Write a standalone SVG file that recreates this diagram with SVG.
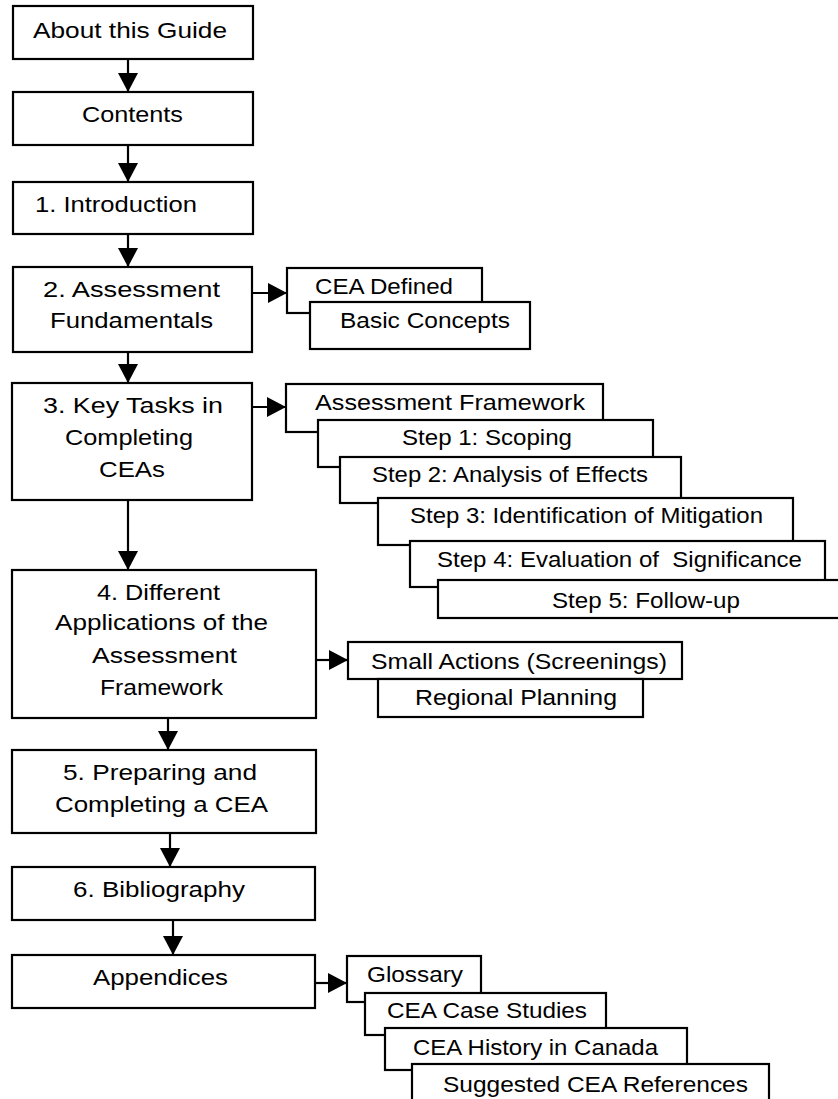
<svg xmlns="http://www.w3.org/2000/svg" width="838" height="1099" viewBox="0 0 838 1099">
<style>
.box{fill:#fff;stroke:#000;stroke-width:2.2}
.t{font-family:"Liberation Sans",Arial,sans-serif;font-size:22px;fill:#000}
.c{fill:none;stroke:#000;stroke-width:2.2}
</style>
<defs>
<marker id="ah" viewBox="0 0 19 20" refX="19" refY="10" markerWidth="19" markerHeight="20" markerUnits="userSpaceOnUse" orient="auto">
<path d="M0,0 L19,10 L0,20 Z" fill="#000"/>
</marker>
</defs>
<rect width="838" height="1099" fill="#fff"/>
<g id="connectors">
<path class="c" d="M128,59 V92" marker-end="url(#ah)"/>
<path class="c" d="M128,145 V182" marker-end="url(#ah)"/>
<path class="c" d="M128,234 V267" marker-end="url(#ah)"/>
<path class="c" d="M128,352 V383" marker-end="url(#ah)"/>
<path class="c" d="M128,500 V570" marker-end="url(#ah)"/>
<path class="c" d="M168,718 V750" marker-end="url(#ah)"/>
<path class="c" d="M170,833 V867" marker-end="url(#ah)"/>
<path class="c" d="M173,920 V955" marker-end="url(#ah)"/>
<path class="c" d="M253,293 H287" marker-end="url(#ah)"/>
<path class="c" d="M252,407 H286" marker-end="url(#ah)"/>
<path class="c" d="M316,660 H348" marker-end="url(#ah)"/>
<path class="c" d="M315,983 H347" marker-end="url(#ah)"/>
</g>
<g id="about"><rect class="box" x="13" y="6" width="240" height="53"/><text class="t" x="33" y="38" textLength="194" lengthAdjust="spacingAndGlyphs">About this Guide</text></g>
<g id="contents"><rect class="box" x="13" y="92" width="240" height="53"/><text class="t" x="82" y="122" textLength="101" lengthAdjust="spacingAndGlyphs">Contents</text></g>
<g id="intro"><rect class="box" x="13" y="182" width="240" height="52"/><text class="t" x="35" y="212" textLength="162" lengthAdjust="spacingAndGlyphs">1. Introduction</text></g>
<g id="fundamentals"><rect class="box" x="13" y="267" width="239" height="85"/><text class="t" x="43" y="297" textLength="177" lengthAdjust="spacingAndGlyphs">2. Assessment</text><text class="t" x="50" y="328" textLength="163" lengthAdjust="spacingAndGlyphs">Fundamentals</text></g>
<g id="keytasks"><rect class="box" x="12" y="383" width="240" height="117"/><text class="t" x="43" y="413" textLength="180" lengthAdjust="spacingAndGlyphs">3. Key Tasks in</text><text class="t" x="65" y="445" textLength="128" lengthAdjust="spacingAndGlyphs">Completing</text><text class="t" x="99" y="477" textLength="66" lengthAdjust="spacingAndGlyphs">CEAs</text></g>
<g id="applications"><rect class="box" x="12" y="570" width="304" height="148"/><text class="t" x="97" y="600" textLength="123" lengthAdjust="spacingAndGlyphs">4. Different</text><text class="t" x="55" y="630" textLength="213" lengthAdjust="spacingAndGlyphs">Applications of the</text><text class="t" x="92" y="663" textLength="145" lengthAdjust="spacingAndGlyphs">Assessment</text><text class="t" x="100" y="695" textLength="123" lengthAdjust="spacingAndGlyphs">Framework</text></g>
<g id="preparing"><rect class="box" x="12" y="750" width="304" height="83"/><text class="t" x="63" y="780" textLength="194" lengthAdjust="spacingAndGlyphs">5. Preparing and</text><text class="t" x="55" y="812" textLength="213" lengthAdjust="spacingAndGlyphs">Completing a CEA</text></g>
<g id="bibliography"><rect class="box" x="12" y="867" width="303" height="53"/><text class="t" x="73" y="897" textLength="172" lengthAdjust="spacingAndGlyphs">6. Bibliography</text></g>
<g id="appendices"><rect class="box" x="12" y="955" width="303" height="53"/><text class="t" x="93" y="985" textLength="135" lengthAdjust="spacingAndGlyphs">Appendices</text></g>
<g id="cea-defined"><rect class="box" x="287" y="268" width="195" height="45"/><text class="t" x="315" y="294" textLength="138" lengthAdjust="spacingAndGlyphs">CEA Defined</text></g>
<g id="basic-concepts"><rect class="box" x="310" y="302" width="220" height="47"/><text class="t" x="340" y="328" textLength="170" lengthAdjust="spacingAndGlyphs">Basic Concepts</text></g>
<g id="assessment-framework"><rect class="box" x="286" y="384" width="317" height="48"/><text class="t" x="315" y="410" textLength="270" lengthAdjust="spacingAndGlyphs">Assessment Framework</text></g>
<g id="step1"><rect class="box" x="318" y="420" width="335" height="47"/><text class="t" x="402" y="445" textLength="170" lengthAdjust="spacingAndGlyphs">Step 1: Scoping</text></g>
<g id="step2"><rect class="box" x="340" y="457" width="341" height="46"/><text class="t" x="372" y="482" textLength="276" lengthAdjust="spacingAndGlyphs">Step 2: Analysis of Effects</text></g>
<g id="step3"><rect class="box" x="378" y="498" width="415" height="47"/><text class="t" x="410" y="523" textLength="353" lengthAdjust="spacingAndGlyphs">Step 3: Identification of Mitigation</text></g>
<g id="step4"><rect class="box" x="410" y="541" width="415" height="46"/><text class="t" x="437" y="567" textLength="365" lengthAdjust="spacingAndGlyphs" xml:space="preserve">Step 4: Evaluation of  Significance</text></g>
<g id="step5"><rect class="box" x="438" y="580" width="410" height="38"/><text class="t" x="552" y="608" textLength="188" lengthAdjust="spacingAndGlyphs">Step 5: Follow-up</text></g>
<g id="small-actions"><rect class="box" x="348" y="642" width="334" height="37"/><text class="t" x="371" y="669" textLength="296" lengthAdjust="spacingAndGlyphs">Small Actions (Screenings)</text></g>
<g id="regional-planning"><rect class="box" x="378" y="679" width="265" height="38"/><text class="t" x="415" y="705" textLength="202" lengthAdjust="spacingAndGlyphs">Regional Planning</text></g>
<g id="glossary"><rect class="box" x="347" y="956" width="134" height="46"/><text class="t" x="367" y="982" textLength="96" lengthAdjust="spacingAndGlyphs">Glossary</text></g>
<g id="case-studies"><rect class="box" x="365" y="993" width="241" height="42"/><text class="t" x="387" y="1018" textLength="200" lengthAdjust="spacingAndGlyphs">CEA Case Studies</text></g>
<g id="history"><rect class="box" x="385" y="1028" width="302" height="42"/><text class="t" x="413" y="1055" textLength="245" lengthAdjust="spacingAndGlyphs">CEA History in Canada</text></g>
<g id="references"><rect class="box" x="412" y="1064" width="357" height="50"/><text class="t" x="443" y="1092" textLength="305" lengthAdjust="spacingAndGlyphs">Suggested CEA References</text></g>
</svg>
